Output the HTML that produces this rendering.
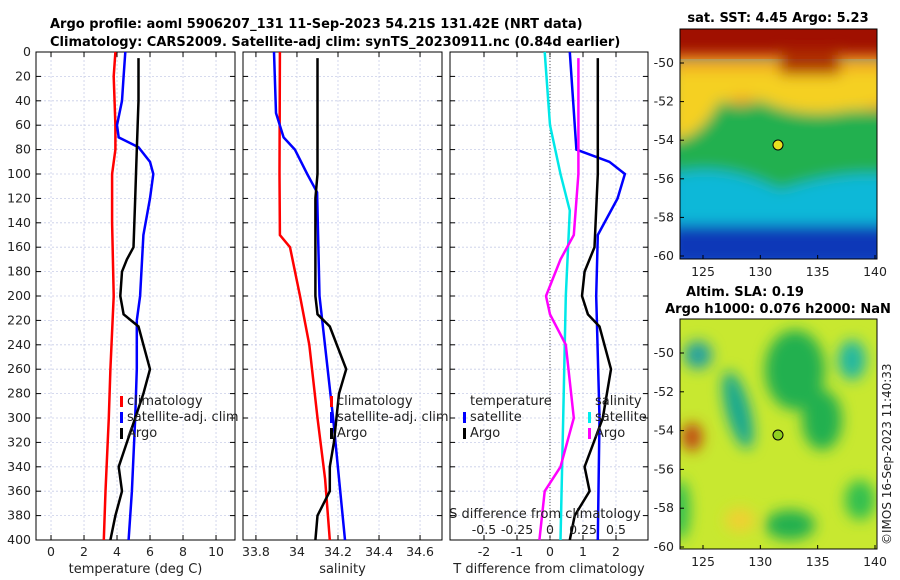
<!DOCTYPE html>
<html><head><meta charset="utf-8"><style>
body{margin:0;background:#fff;}
svg{display:block;font-family:"DejaVu Sans","Liberation Sans",sans-serif;}
.t{font-weight:bold;font-size:13px;fill:#000}
.tk{font-size:12.5px;fill:#222}
.grid{stroke:#c8cde8;stroke-width:0.8;stroke-dasharray:2,2}
</style></head><body>
<svg id="c" width="900" height="580" xmlns="http://www.w3.org/2000/svg">
<defs>
<filter id="bl"><feGaussianBlur stdDeviation="7"/></filter>
<clipPath id="cm1"><rect x="680" y="29" width="197" height="230"/></clipPath>
<clipPath id="cm2"><rect x="680" y="319" width="197" height="230"/></clipPath>
</defs>
<text class="t" x="50" y="28">Argo profile: aoml 5906207_131 11-Sep-2023 54.21S 131.42E (NRT data)</text>
<text class="t" x="50" y="46">Climatology: CARS2009. Satellite-adj clim: synTS_20230911.nc (0.84d earlier)</text>
<g id="plots"></g>

<!-- SST map -->
<text class="t" x="778" y="22" text-anchor="middle">sat. SST: 4.45 Argo: 5.23</text>
<g clip-path="url(#cm1)">
<rect x="680" y="29" width="197" height="230" fill="#1a78e0"/>
<rect x="680" y="29" width="197" height="30" fill="#a01000"/>
<g filter="url(#bl)">
<rect x="670" y="55" width="220" height="55" fill="#f0a020"/>
<path d="M670 70 H890 V105 Q860 100 850 130 Q820 110 800 120 Q760 100 740 95 Q710 110 700 140 L670 140Z" fill="#f5d020"/>
<path d="M670 140 Q700 140 720 100 Q740 110 760 100 Q800 120 850 110 L890 110 V200 H670Z" fill="#20b050"/>
<path d="M670 175 Q720 160 780 190 Q840 170 890 175 V225 H670Z" fill="#10b8d8"/>
<rect x="670" y="225" width="220" height="40" fill="#0838b8"/>
<rect x="780" y="50" width="60" height="25" fill="#b03000"/>
</g>
</g>
<rect x="680" y="29" width="197" height="230" fill="none" stroke="#000"/>
<circle cx="778" cy="145" r="5" fill="#e8e020" stroke="#000"/>
<g id="m1ax"></g>

<!-- SLA map -->
<text class="t" x="745" y="296" text-anchor="middle">Altim. SLA: 0.19</text>
<text class="t" x="778" y="313" text-anchor="middle">Argo h1000: 0.076 h2000: NaN</text>
<g clip-path="url(#cm2)">
<rect x="680" y="319" width="197" height="230" fill="#c8e830"/>
<g filter="url(#bl)">
<ellipse cx="698" cy="355" rx="14" ry="14" fill="#20a0a0"/>
<ellipse cx="738" cy="410" rx="12" ry="40" fill="#18a890" transform="rotate(-15 738 410)"/>
<ellipse cx="795" cy="370" rx="30" ry="40" fill="#20b050"/>
<ellipse cx="852" cy="360" rx="14" ry="20" fill="#20b8a0"/>
<ellipse cx="692" cy="437" rx="10" ry="14" fill="#c04010"/>
<ellipse cx="822" cy="420" rx="20" ry="30" fill="#20b050"/>
<ellipse cx="790" cy="525" rx="25" ry="15" fill="#20b050"/>
<ellipse cx="860" cy="500" rx="15" ry="20" fill="#30c050"/>
<ellipse cx="740" cy="520" rx="15" ry="12" fill="#f0d030"/>
<ellipse cx="680" cy="510" rx="10" ry="30" fill="#30c050"/>
</g>
</g>
<rect x="680" y="319" width="197" height="230" fill="none" stroke="#000"/>
<circle cx="778" cy="435" r="5" fill="#90d020" stroke="#000"/>
<g id="m2ax"></g>
<text x="891" y="545" font-size="12" fill="#222" transform="rotate(-90 891 545)">©IMOS 16-Sep-2023 11:40:33</text>
</svg>
<script>
const depthTicks=[0,20,40,60,80,100,120,140,160,180,200,220,240,260,280,300,320,340,360,380,400];
const tTicks=[0,2,4,6,8,10];
const sTicks=[33.8,34,34.2,34.4,34.6];
const dTicks=[-2,-1,0,1,2];
const sdTicks=[-0.5,-0.25,0,0.25,0.5];
// temperature
const tClimD=[0,20,60,80,100,140,200,260,300,360,400];
const tClimV=[3.9,3.8,3.9,3.9,3.7,3.7,3.8,3.6,3.5,3.3,3.2];
const tSatD=[0,20,40,60,70,78,90,100,120,150,200,220,260,300,360,400];
const tSatV=[4.5,4.4,4.3,4.0,4.1,5.3,6.0,6.2,6.0,5.6,5.4,5.2,5.2,5.1,4.9,4.7];
const tArgoD=[5,40,80,120,160,170,180,200,215,225,240,260,280,300,320,340,360,380,400];
const tArgoV=[5.3,5.3,5.2,5.1,5.0,4.6,4.3,4.2,4.4,5.3,5.6,6.0,5.6,5.1,4.6,4.1,4.3,3.9,3.6];
// salinity
const sClimD=[0,100,150,160,200,240,300,350,400];
const sClimV=[33.917,33.915,33.917,33.966,34.015,34.06,34.1,34.137,34.16];
const sSatD=[0,50,70,80,100,115,200,300,400];
const sSatV=[33.888,33.898,33.935,33.99,34.05,34.098,34.11,34.176,34.234];
const sArgoD=[5,100,120,200,215,225,260,280,320,340,360,380,400];
const sArgoV=[34.1,34.1,34.09,34.09,34.1,34.16,34.24,34.205,34.18,34.16,34.16,34.1,34.09];
// differences
const dTSatD=[0,40,80,90,100,120,150,200,300,400];
const dTSatV=[0.6,0.7,0.8,1.8,2.27,2.05,1.45,1.4,1.5,1.45];
const dTArgoD=[5,100,160,180,200,215,225,260,300,340,360,380,400];
const dTArgoV=[1.45,1.45,1.35,1.05,0.97,1.15,1.5,1.85,1.6,1.05,1.2,0.75,0.6];
const dSSatD=[0,60,100,130,200,300,400];
const dSSatV=[-0.04,0,0.08,0.15,0.12,0.1,0.08];
const dSArgoD=[5,100,150,170,200,215,240,300,340,360,400];
const dSArgoV=[0.215,0.215,0.18,0.08,-0.03,0,0.12,0.18,0.08,-0.04,-0.08];
const latTicks=[-50,-52,-54,-56,-58,-60];
const lonTicks=[125,130,135,140];

const NS='http://www.w3.org/2000/svg';
const root=document.getElementById('plots');
function mk(tag,attrs,parent){const e=document.createElementNS(NS,tag);for(const k in attrs)e.setAttribute(k,attrs[k]);(parent||root).appendChild(e);return e;}
const Y0=52,Y1=540;
const yD=d=>Y0+(d/400)*(Y1-Y0);
function panel(name,x0,x1,xmin,xmax,ticks,fmt,xlabel){
  const g=mk('g',{});
  
  
  const X=v=>x0+(v-xmin)/(xmax-xmin)*(x1-x0);
  ticks.forEach(t=>{mk('line',{x1:X(t),x2:X(t),y1:Y0,y2:Y1,class:'grid'},g);
    const tx=mk('text',{x:X(t),y:Y1+16,class:'tk','text-anchor':'middle'},g);tx.textContent=fmt(t);
    mk('line',{x1:X(t),x2:X(t),y1:Y1,y2:Y1-5,stroke:'#000'},g);mk('line',{x1:X(t),x2:X(t),y1:Y0,y2:Y0+5,stroke:'#000'},g);});
  depthTicks.forEach(d=>{mk('line',{x1:x0,x2:x1,y1:yD(d),y2:yD(d),class:'grid'},g);
    mk('line',{x1:x0,x2:x0+5,y1:yD(d),y2:yD(d),stroke:'#000'},g);mk('line',{x1:x1,x2:x1-5,y1:yD(d),y2:yD(d),stroke:'#000'},g);});
  mk('rect',{x:x0,y:Y0,width:x1-x0,height:Y1-Y0,fill:'none',stroke:'#000'},g);
  const xl=mk('text',{x:(x0+x1)/2,y:Y1+33,'font-size':'13',fill:'#222','text-anchor':'middle'},g);xl.textContent=xlabel;
  return {g,X};
}
function line(p,X,ds,vs,col,name){
  const pts=ds.map((d,i)=>X(vs[i]).toFixed(1)+','+yD(d).toFixed(1)).join(' ');
  const e=mk('polyline',{points:pts,fill:'none',stroke:col,'stroke-width':2.5},p.g);
  
  
}
function legend(g,x,y,items){items.forEach((it,i)=>{
  mk('rect',{x:x,y:y+i*16-9,width:3,height:11,fill:it[1]},g);
  const t=mk('text',{x:x+7,y:y+i*16,'font-size':'13',fill:'#222'},g);t.textContent=it[0];});}
// depth labels
depthTicks.forEach(d=>{const t=mk('text',{x:31,y:yD(d)+4,class:'tk','text-anchor':'end'});t.textContent=d;});
const p1=panel('temperature-panel',36,235,-0.91,11.15,tTicks,v=>v,'temperature (deg C)');
line(p1,p1.X,tClimD,tClimV,'#ff0000','temp-climatology-line');
line(p1,p1.X,tSatD,tSatV,'#0000ff','temp-satellite-line');
line(p1,p1.X,tArgoD,tArgoV,'#000','temp-argo-line');
legend(p1.g,120,405,[['climatology','#f00'],['satellite-adj. clim','#00f'],['Argo','#000']]);
const p2=panel('salinity-panel',243,442,33.737,34.707,sTicks,v=>v==34?'34':v.toFixed(1),'salinity');
line(p2,p2.X,sClimD,sClimV,'#ff0000','sal-climatology-line');
line(p2,p2.X,sSatD,sSatV,'#0000ff','sal-satellite-line');
line(p2,p2.X,sArgoD,sArgoV,'#000','sal-argo-line');
legend(p2.g,330,405,[['climatology','#f00'],['satellite-adj. clim','#00f'],['Argo','#000']]);
const p3=panel('difference-panel',450,648,-3.03,2.97,dTicks,v=>v,'T difference from climatology');
const XS=v=>p3.X(v*4);
mk('line',{x1:p3.X(0),x2:p3.X(0),y1:Y0,y2:Y1,stroke:'#555','stroke-dasharray':'1,2'},p3.g);
line(p3,XS,dSSatD,dSSatV,'#00e8e8','sdiff-satellite-line');
line(p3,p3.X,dTSatD,dTSatV,'#0000ff','tdiff-satellite-line');
line(p3,p3.X,dTArgoD,dTArgoV,'#000','tdiff-argo-line');
line(p3,XS,dSArgoD,dSArgoV,'#ff00ff','sdiff-argo-line');
let tt=mk('text',{x:470,y:405,'font-size':'13',fill:'#222'},p3.g);tt.textContent='temperature';
tt=mk('text',{x:595,y:405,'font-size':'13',fill:'#222'},p3.g);tt.textContent='salinity';
legend(p3.g,463,421,[['satellite','#00f'],['Argo','#000']]);
legend(p3.g,588,421,[['satellite','#0ee'],['Argo','#f0f']]);
tt=mk('text',{x:545,y:518,'font-size':'13',fill:'#222','text-anchor':'middle'},p3.g);tt.textContent='S difference from climatology';
sdTicks.forEach(s=>{const t=mk('text',{x:XS(s),y:534,'font-size':'12.5',fill:'#222','text-anchor':'middle'},p3.g);t.textContent=s;});
// map axes
function mapAx(gid,y0,y1,latTop){
  const g=document.getElementById(gid);
  const yL=l=>latTop+(-50-l)/10*((y1-latTop));
  latTicks.forEach(l=>{mk('line',{x1:680,x2:684,y1:yL(l),y2:yL(l),stroke:'#000'},g);
    const t=mk('text',{x:674,y:yL(l)+4,class:'tk','text-anchor':'end'},g);t.textContent=l;});
  const XL=l=>703+(l-125)/15*172;
  lonTicks.forEach(l=>{const b=gid=='m1ax'?259:549;mk('line',{x1:XL(l),x2:XL(l),y1:b,y2:b-4,stroke:'#000'},g);
    const t=mk('text',{x:XL(l),y:b+17,class:'tk','text-anchor':'middle'},g);t.textContent=l;});
}
mapAx('m1ax',29,256,63);
mapAx('m2ax',319,547,353);
</script>
</body></html>
